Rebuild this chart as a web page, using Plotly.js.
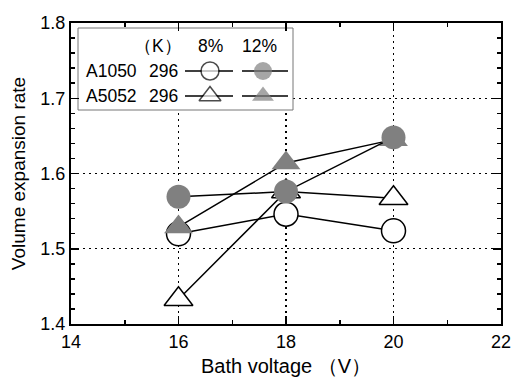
<!DOCTYPE html>
<html>
<head>
<meta charset="utf-8">
<script src="https://cdn.plot.ly/plotly-3.0.1.min.js"></script>
<style>html,body{margin:0;padding:0;background:#fff;}#chart{width:512px;height:383px;}</style>
</head>
<body>
<div id="chart"></div>
<script>
// ---- data ----
const voltage = [16, 18, 20];
const a1050_8 = [1.520, 1.546, 1.524];
const a1050_12 = [1.569, 1.576, 1.648];
const a5052_8 = [1.433, 1.576, 1.567];
const a5052_12 = [1.529, 1.614, 1.645];
const xTicks = [14, 16, 18, 20, 22];
const yTicks = [1.4, 1.5, 1.6, 1.7, 1.8];
const legendRows = ["A1050", "A5052"];
const legendTemp = ["296", "296"];
const legendCols = ["8%", "12%"];

const GRAY = "#808080";
const FONT = "Liberation Sans, Arial, sans-serif";

function series(y, symbol, filled) {
  return {
    x: voltage, y: y, type: "scatter", mode: "lines+markers",
    line: {color: "black", width: 1.5},
    marker: {symbol: symbol, size: symbol === "circle" ? 24 : 25,
      color: filled ? GRAY : "white",
      line: {color: filled ? GRAY : "black", width: filled ? 0 : 1.5}},
    showlegend: false, cliponaxis: false
  };
}

const traces = [
  series(a1050_8, "circle", false),
  series(a5052_8, "triangle-up", false),
  series(a5052_12, "triangle-up", true),
  series(a1050_12, "circle", true)
];

// legend box + samples on a pixel-space overlay axis
const PL = 71, PR = 501, PT = 23, PB = 324;
const box = {x0: 78, x1: 293, y0: 28, y1: 110};
traces.push({
  x: [box.x0, box.x1, box.x1, box.x0, box.x0], y: [box.y0, box.y0, box.y1, box.y1, box.y0],
  xaxis: "x2", yaxis: "y2", type: "scatter", mode: "lines", fill: "toself",
  fillcolor: "white", line: {color: "#777", width: 1}, showlegend: false, hoverinfo: "skip"
});
const rowY = [71, 96];
const colX = [{c: 210, a: 185, b: 233}, {c: 263, a: 242, b: 288}];
const syms = ["circle", "triangle-up"];
for (let r = 0; r < 2; r++) {
  for (let c = 0; c < 2; c++) {
    const k = colX[c];
    traces.push({
      x: [k.a, k.c, k.b], y: [rowY[r], rowY[r], rowY[r]],
      xaxis: "x2", yaxis: "y2", type: "scatter", mode: "lines+markers",
      line: {color: "black", width: 1.5},
      marker: {symbol: syms[r], size: [0, r === 0 ? 18 : 19, 0],
        color: c === 1 ? GRAY : "white",
        line: {color: c === 1 ? GRAY : "black", width: c === 1 ? 0 : 1.5}},
      showlegend: false, cliponaxis: false
    });
  }
}

const annotations = [];
function txt(x, y, t, anchor) {
  annotations.push({xref: "x2", yref: "y2", x: x, y: y, text: t, showarrow: false,
    xanchor: anchor || "center", yanchor: "middle", font: {family: FONT, size: 17.5, color: "black"}});
}
txt(158, 46, "（K）");
txt(210, 46, legendCols[0]);
txt(259, 46, legendCols[1]);
for (let r = 0; r < 2; r++) {
  txt(84, rowY[r], legendRows[r], "left");
  txt(163, rowY[r], legendTemp[r]);
}

const axisCommon = {
  showline: true, linecolor: "black", linewidth: 2, mirror: "allticks",
  ticks: "inside", ticklen: 8, tickwidth: 1.5, tickcolor: "black",
  showgrid: true, gridcolor: "black", gridwidth: 1.2, griddash: "1.5px,4.5px",
  zeroline: false, tickfont: {family: FONT, size: 18, color: "black"}
};

const layout = {
  width: 512, height: 383,
  margin: {l: 71, r: 11, t: 23, b: 59},
  paper_bgcolor: "white", plot_bgcolor: "white",
  xaxis: Object.assign({}, axisCommon, {
    range: [14, 22], tickvals: xTicks, ticktext: xTicks.map(String),
    minor: {dtick: 1, tick0: 14, ticks: "inside", ticklen: 4, tickwidth: 1.5, tickcolor: "black", showgrid: false},
    title: {text: "Bath voltage （V）", font: {family: FONT, size: 20, color: "black"}, standoff: 8}
  }),
  yaxis: Object.assign({}, axisCommon, {
    range: [1.4, 1.8], tickvals: yTicks, ticktext: yTicks.map(v => v.toFixed(1)),
    minor: {dtick: 0.02, tick0: 1.4, ticks: "inside", ticklen: 4, tickwidth: 1.5, tickcolor: "black", showgrid: false},
    title: {text: "Volume expansion rate", font: {family: FONT, size: 19, color: "black"}, standoff: 10}
  }),
  xaxis2: {overlaying: "x", range: [PL, PR], visible: false, fixedrange: true},
  yaxis2: {overlaying: "y", range: [PB, PT], visible: false, fixedrange: true},
  annotations: annotations
};

Plotly.newPlot("chart", traces, layout, {staticPlot: true, displayModeBar: false});
</script>
</body>
</html>
